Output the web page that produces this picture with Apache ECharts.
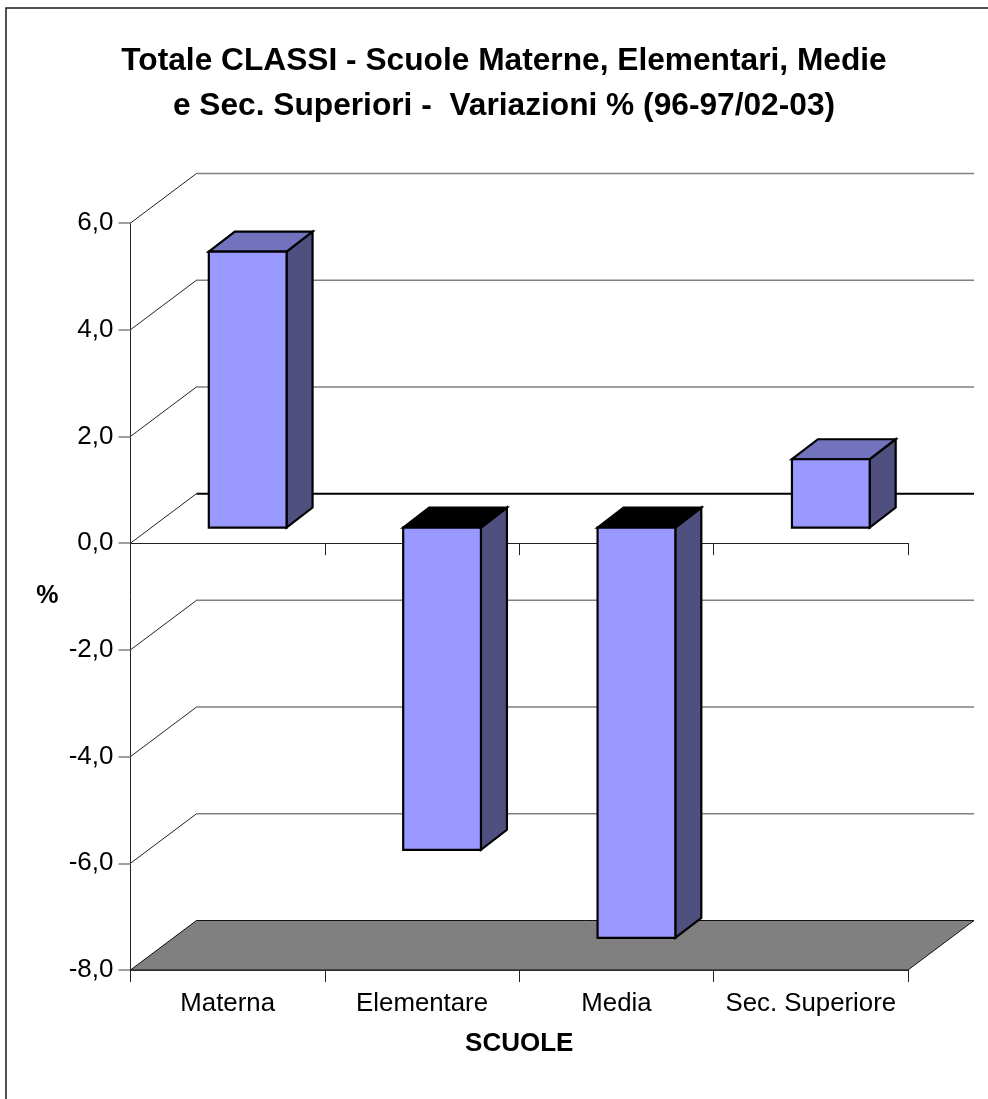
<!DOCTYPE html>
<html>
<head>
<meta charset="utf-8">
<style>html,body{margin:0;padding:0;background:#fff;overflow:hidden}#c{width:988px;height:1099px}</style>
<script src="https://cdn.jsdelivr.net/npm/echarts@6/dist/echarts.min.js"></script>
</head>
<body>
<div id="c"></div>
<script>
const categories = ['Materna', 'Elementare', 'Media', 'Sec. Superiore'];
const values = [5.17, -6.04, -7.69, 1.28];
const wallTicks = [-6, -4, -2, 0, 2, 4, 6];
const floorLevel = [-8];

const FONT = '"Liberation Sans", Arial, sans-serif';
const WALL_DX = 66, WALL_DY = 49.5;
const BAR_SHIFT_X = 20, BAR_SHIFT_Y = 15.6, BAR_DX = 26, BAR_DY = 20, BAR_FRAC = 0.4;

const chart = echarts.init(document.getElementById('c'), null, {renderer: 'canvas'});
chart.setOption({
  animation: false,
  backgroundColor: '#fff',
  title: {
    text: 'Totale CLASSI - Scuole Materne, Elementari, Medie\ne Sec. Superiori -  Variazioni % (96-97/02-03)',
    left: 499, top: 34, textAlign: 'center',
    textStyle: {fontFamily: FONT, fontWeight: 'bold', fontSize: 31.7, lineHeight: 45, color: '#000'}
  },
  graphic: [{type: 'rect', silent: true, z: -1,
    shape: {x: 6, y: 8, width: 1100, height: 1200},
    style: {fill: 'none', stroke: '#1a1a1a', lineWidth: 1.5}}],
  grid: {left: 130.5, right: 80, top: 223, bottom: 129},
  xAxis: [{
    type: 'category', data: categories, position: 'bottom',
    axisLine: {show: true, onZero: false, lineStyle: {color: '#111', width: 1.5}},
    axisTick: {show: true, length: 12, lineStyle: {color: '#222', width: 1}},
    axisLabel: {interval: 0, fontFamily: FONT, fontSize: 25.8, color: '#000', margin: 21},
    name: 'SCUOLE', nameLocation: 'middle', nameGap: 61,
    nameTextStyle: {fontFamily: FONT, fontWeight: 'bold', fontSize: 26, color: '#000'}
  }, {
    type: 'category', data: categories, position: 'bottom',
    axisLine: {show: true, onZero: true, lineStyle: {color: '#222', width: 1.2}},
    axisTick: {show: true, length: 12, lineStyle: {color: '#222', width: 1}},
    axisLabel: {show: false}
  }],
  yAxis: {
    type: 'value', min: -8, max: 6, interval: 2,
    axisLine: {show: true, lineStyle: {color: '#222', width: 1}},
    axisTick: {show: true, length: 12, lineStyle: {color: '#808080', width: 1.5}},
    axisLabel: {fontFamily: FONT, fontSize: 26, color: '#000', margin: 17, padding: [4, 0, 0, 0],
      formatter: v => v.toFixed(1).replace('.', ',')},
    splitLine: {show: false},
    name: '%', nameLocation: 'middle', nameGap: 72, nameRotate: 0,
    nameTextStyle: {fontFamily: FONT, fontWeight: 'bold', fontSize: 25, color: '#000'}
  },
  series: [{
    type: 'custom', xAxisIndex: 0, z: 1, silent: true,
    data: wallTicks.map(v => [0, v]),
    encode: {x: 0, y: 1},
    renderItem(params, api) {
      const cs = params.coordSys, v = api.value(1);
      const y = api.coord([0, v])[1], x0 = cs.x, x1 = cs.x + cs.width;
      const zero = v === 0;
      return {type: 'group', children: [
        {type: 'polyline', shape: {points: [[x0 + WALL_DX, y - WALL_DY], [x1 + WALL_DX, y - WALL_DY]]},
          style: {fill: 'none', stroke: zero ? '#000' : '#808080', lineWidth: zero ? 2 : 1.5}},
        {type: 'polyline', shape: {points: [[x0, y], [x0 + WALL_DX, y - WALL_DY]]},
          style: {fill: 'none', stroke: '#222', lineWidth: 1}}
      ]};
    }
  }, {
    type: 'custom', xAxisIndex: 0, z: 2, silent: true,
    data: floorLevel.map(v => [0, v]),
    encode: {x: 0, y: 1},
    renderItem(params, api) {
      const cs = params.coordSys, y = api.coord([0, api.value(1)])[1];
      const x0 = cs.x, x1 = cs.x + cs.width;
      return {type: 'polygon',
        shape: {points: [[x0, y], [x0 + WALL_DX, y - WALL_DY], [x1 + WALL_DX, y - WALL_DY], [x1, y]]},
        style: {fill: '#808080', stroke: '#111', lineWidth: 1}};
    }
  }, {
    type: 'custom', xAxisIndex: 0, z: 3, silent: true,
    data: values.map((v, i) => [i, v]),
    encode: {x: 0, y: 1},
    renderItem(params, api) {
      const i = api.value(0), v = api.value(1);
      const w = api.size([1, 0])[0] * BAR_FRAC;
      const c = api.coord([i, 0]);
      const l = c[0] + BAR_SHIFT_X - w / 2, r = l + w;
      const base = c[1] - BAR_SHIFT_Y;
      const end = api.coord([i, v])[1] - BAR_SHIFT_Y;
      const top = Math.min(base, end), bot = Math.max(base, end);
      const st = fill => ({fill, stroke: '#000', lineWidth: 2.2, lineJoin: 'miter'});
      return {type: 'group', children: [
        {type: 'polygon', shape: {points: [[r, top], [r + BAR_DX, top - BAR_DY], [r + BAR_DX, bot - BAR_DY], [r, bot]]}, style: st('#4F4F80')},
        {type: 'polygon', shape: {points: [[l, top], [l + BAR_DX, top - BAR_DY], [r + BAR_DX, top - BAR_DY], [r, top]]}, style: st(v < 0 ? '#000' : '#7373BD')},
        {type: 'rect', shape: {x: l, y: top, width: w, height: bot - top}, style: st('#9999FF')}
      ]};
    }
  }]
});
</script>
</body>
</html>
